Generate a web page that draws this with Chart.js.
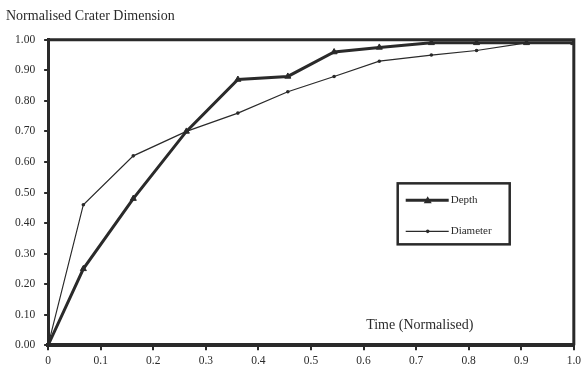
<!DOCTYPE html>
<html>
<head>
<meta charset="utf-8">
<script src="https://cdn.jsdelivr.net/npm/chart.js@4/dist/chart.umd.min.js"></script>
<style>
    html, body { margin: 0; padding: 0; background: #fff; }
    .chart-container { width: 585px; height: 377px; position: relative; }
</style>
</head>
<body>
<div class="chart-container">
    <canvas id="crater_chart"></canvas>
</div>
<script>
const time_values = [0, 0.067, 0.162, 0.263, 0.361, 0.456, 0.544, 0.63, 0.729, 0.815, 0.91, 1.0]
const depth_values = [0, 0.25, 0.48, 0.70, 0.87, 0.88, 0.96, 0.975, 0.99, 0.99, 0.99, 0.99]
const diameter_values = [0, 0.46, 0.62, 0.70, 0.76, 0.83, 0.88, 0.93, 0.95, 0.965, 0.99, 0.99]
const series_labels = ['Depth', 'Diameter']
const y_axis_label = 'Normalised Crater Dimension'
const x_axis_label = 'Time (Normalised)'

const ink = '#2a2a2a'
const serif = '"Liberation Serif", "DejaVu Serif", serif'

Chart.defaults.color = ink
Chart.defaults.font.family = serif

function to_points(values) {
    return values.map((v, i) => ({ x: time_values[i], y: v }))
}

// top + right frame lines, the inner axis label and the boxed legend
const frame_plugin = {
    id: 'frame_plugin',
    afterDatasetsDraw(chart) {
        const { ctx, chartArea } = chart
        const x_scale = chart.scales.x
        const y_scale = chart.scales.y
        ctx.save()
        ctx.strokeStyle = ink
        ctx.lineWidth = 3
        ctx.beginPath()
        ctx.moveTo(chartArea.left, chartArea.top)
        ctx.lineTo(chartArea.right, chartArea.top)
        ctx.lineTo(chartArea.right, chartArea.bottom)
        ctx.stroke()

        ctx.fillStyle = ink
        ctx.font = '14px ' + serif
        ctx.textBaseline = 'middle'
        ctx.fillText(x_axis_label, x_scale.getPixelForValue(0.605), y_scale.getPixelForValue(0.065))

        // legend
        const box_left = x_scale.getPixelForValue(0.665)
        const box_top = y_scale.getPixelForValue(0.53)
        const box_w = 112
        const box_h = 61
        ctx.lineWidth = 2.5
        ctx.strokeRect(box_left, box_top, box_w, box_h)

        ctx.font = '11px ' + serif
        chart.data.datasets.forEach((ds, i) => {
            const yy = box_top + 17 + i * 31
            ctx.strokeStyle = ds.borderColor
            ctx.lineWidth = ds.borderWidth
            ctx.beginPath()
            ctx.moveTo(box_left + 8, yy)
            ctx.lineTo(box_left + 51, yy)
            ctx.stroke()
            ctx.fillStyle = ink
            ctx.beginPath()
            if (ds.pointStyle === 'triangle') {
                ctx.moveTo(box_left + 30, yy - 4)
                ctx.lineTo(box_left + 34, yy + 3)
                ctx.lineTo(box_left + 26, yy + 3)
            } else {
                ctx.arc(box_left + 30, yy, 1.8, 0, Math.PI * 2)
            }
            ctx.fill()
            ctx.fillText(ds.label, box_left + 53, yy)
        })
        ctx.restore()
    }
}

new Chart(document.getElementById('crater_chart'), {
    type: 'line',
    data: {
        datasets: [
            {
                label: series_labels[0],
                data: to_points(depth_values),
                borderColor: ink,
                backgroundColor: ink,
                borderWidth: 3,
                pointStyle: 'triangle',
                pointRadius: 3.5,
                pointBorderWidth: 1,
                tension: 0,
            },
            {
                label: series_labels[1],
                data: to_points(diameter_values),
                borderColor: ink,
                backgroundColor: ink,
                borderWidth: 1.2,
                pointStyle: 'circle',
                pointRadius: 1.8,
                pointBorderWidth: 0,
                tension: 0,
            },
        ]
    },
    options: {
        responsive: true,
        maintainAspectRatio: false,
        animation: false,
        layout: { padding: { left: 6, right: 10, top: 0, bottom: 5 } },
        plugins: {
            legend: { display: false },
            tooltip: { enabled: false },
            title: {
                display: true,
                text: y_axis_label,
                align: 'start',
                font: { size: 14, weight: 'normal', family: serif },
                color: ink,
                padding: { top: 8, bottom: 15 }
            }
        },
        scales: {
            x: {
                type: 'linear',
                min: 0,
                max: 1,
                ticks: {
                    stepSize: 0.1,
                    font: { size: 11.5, family: serif },
                    color: ink,
                    maxRotation: 0,
                    padding: 4,
                    callback: v => v === 0 ? '0' : v.toFixed(1)
                },
                grid: { drawOnChartArea: false, tickLength: 5, color: ink, lineWidth: 2 },
                border: { color: ink, width: 4 }
            },
            y: {
                type: 'linear',
                min: 0,
                max: 1,
                ticks: {
                    stepSize: 0.1,
                    font: { size: 11.5, family: serif },
                    color: ink,
                    padding: 9,
                    callback: v => v.toFixed(2)
                },
                grid: { drawOnChartArea: false, tickLength: 4, color: ink, lineWidth: 2 },
                border: { color: ink, width: 3 }
            }
        }
    },
    plugins: [frame_plugin]
})
</script>
</body>
</html>
